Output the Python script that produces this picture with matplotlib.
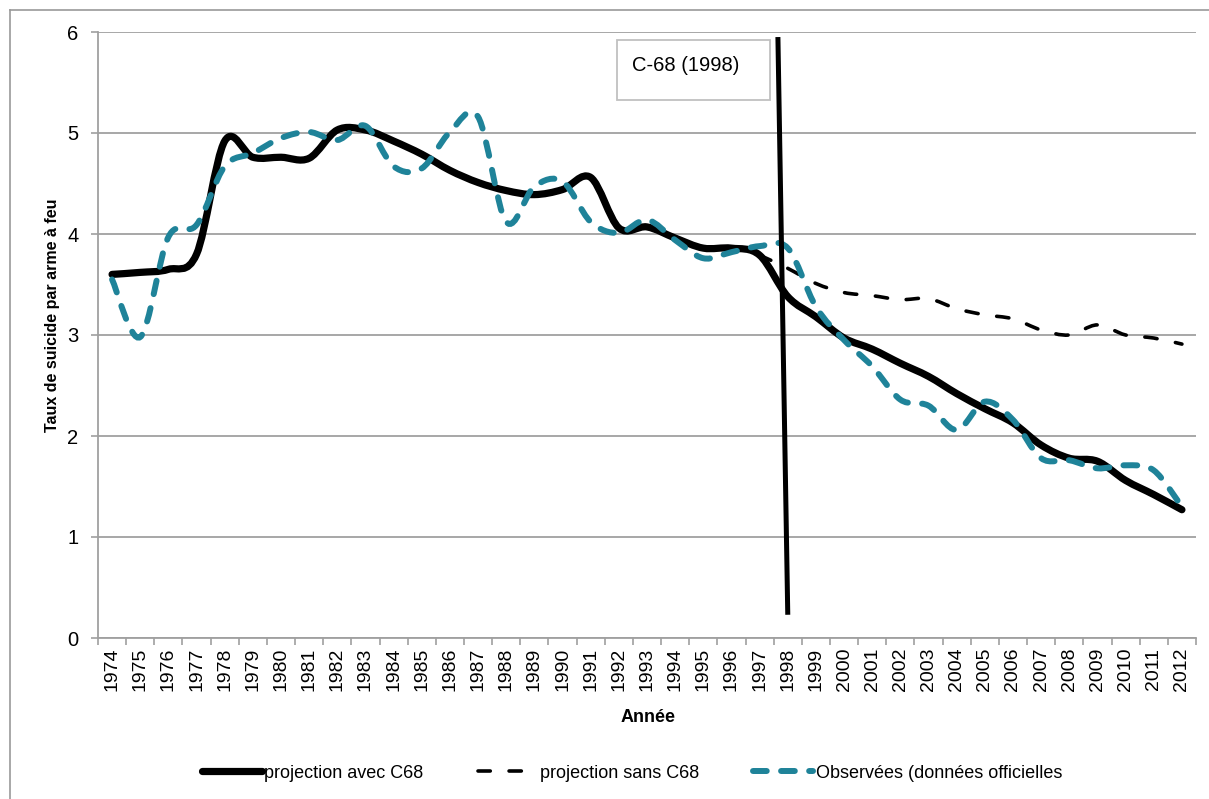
import matplotlib
matplotlib.use("Agg")
import matplotlib.pyplot as plt
import numpy as np
from matplotlib.path import Path
from matplotlib.patches import PathPatch, Rectangle
from matplotlib.lines import Line2D

plt.rcParams["font.family"] = ["Liberation Sans", "DejaVu Sans"]

YEARS = list(range(1974, 2013))

# projection avec C68 (thick black)
AVEC = [3.60, 3.62, 3.65, 3.80, 4.92, 4.76, 4.76, 4.75, 5.03, 5.03,
        4.92, 4.79, 4.63, 4.51, 4.43, 4.39, 4.44, 4.56, 4.06, 4.07,
        3.96, 3.86, 3.86, 3.79, 3.38, 3.18, 2.97, 2.86, 2.72, 2.59,
        2.42, 2.27, 2.13, 1.91, 1.78, 1.75, 1.56, 1.42, 1.27]

# projection sans C68 (thin dashed black), starts in 1997
SANS_FROM = 1997
SANS = [3.79, 3.66, 3.51, 3.42, 3.39, 3.35, 3.36, 3.26, 3.20, 3.16,
        3.05, 3.00, 3.10, 3.00, 2.97, 2.91]

# Observées (teal dashed)
OBS = [3.55, 2.98, 3.97, 4.09, 4.67, 4.80, 4.95, 5.01, 4.93, 5.07,
       4.67, 4.65, 5.01, 5.16, 4.12, 4.47, 4.52, 4.12, 4.01, 4.14,
       3.94, 3.76, 3.82, 3.88, 3.86, 3.28, 2.95, 2.69, 2.36, 2.30,
       2.06, 2.34, 2.16, 1.78, 1.76, 1.68, 1.71, 1.66, 1.30]

LABELS = ["projection avec C68", "projection sans C68",
          "Observées (données officielles"]

# hand-drawn marker line for C-68 (category index, value)
C68_X = [23.65, 24.0]
C68_Y = [5.95, 0.23]

TEAL = "#1f8399"
GRID = "#a0a0a0"


def smooth_path(xs, ys):
    # Excel-style smoothed line: cubic Bezier through every point
    pts = np.column_stack([xs, ys]).astype(float)
    n = len(pts)
    verts = [pts[0]]
    codes = [Path.MOVETO]
    for i in range(n - 1):
        p0 = pts[max(i - 1, 0)]
        p1 = pts[i]
        p2 = pts[i + 1]
        p3 = pts[min(i + 2, n - 1)]
        verts += [p1 + (p2 - p0) / 6, p2 - (p3 - p1) / 6, p2]
        codes += [Path.CURVE4] * 3
    return Path(verts, codes)


fig = plt.figure(figsize=(12.09, 7.99), dpi=100)
ax = fig.add_axes([98 / 1209, 1 - 638 / 799, 1098 / 1209, 606 / 799])

idx = np.arange(len(YEARS))
sans_idx = np.arange(len(SANS)) + YEARS.index(SANS_FROM)

ax.add_patch(PathPatch(smooth_path(idx, AVEC), fill=False, edgecolor="black",
                       linewidth=5.2, capstyle="round", joinstyle="round", zorder=3))
ax.add_patch(PathPatch(smooth_path(sans_idx, SANS), fill=False, edgecolor="black",
                       linewidth=2.6, linestyle=(0, (3.4, 5.2)), capstyle="round",
                       zorder=3))
ax.add_patch(PathPatch(smooth_path(idx, OBS), fill=False, edgecolor=TEAL,
                       linewidth=4.3, linestyle=(0, (2.3, 2.4)), capstyle="round",
                       zorder=4))

ax.plot(C68_X, C68_Y, color="black", linewidth=3.6, solid_capstyle="butt", zorder=6)

# label box
ax.add_patch(Rectangle((0.4727, 0.888), 0.1395, 0.099, transform=ax.transAxes,
                       facecolor="white", edgecolor="#c0c0c0", linewidth=1.3, zorder=5))
ax.text(0.4863, 0.944, "C-68 (1998)", transform=ax.transAxes, fontsize=14.5,
        ha="left", va="center", zorder=6)

ax.set_xlim(-0.5, len(YEARS) - 0.5)
ax.set_ylim(0, 6)
ax.set_xticks(np.arange(-0.5, len(YEARS), 1.0))
ax.set_xticklabels([])
ax.set_xticks(idx, minor=True)
ax.set_xticklabels([str(y) for y in YEARS], minor=True, rotation=90, fontsize=14)
ax.set_yticks(range(7))
ax.set_yticklabels([str(v) for v in range(7)], fontsize=14.5)
ax.tick_params(axis="x", which="major", length=5, width=1.2, color=GRID)
ax.tick_params(axis="x", which="minor", length=0, pad=7)
ax.tick_params(axis="y", length=5, width=1.2, color=GRID, pad=9)
ax.yaxis.grid(True, color=GRID, linewidth=1.3)
ax.set_axisbelow(True)
for side in ("top", "right"):
    ax.spines[side].set_visible(False)
for side in ("left", "bottom"):
    ax.spines[side].set_color(GRID)
    ax.spines[side].set_linewidth(1.3)

fig.text(52 / 1209, 1 - 315 / 799, "Taux de suicide par arme à feu", rotation=90,
         fontsize=11.5, fontweight="bold", ha="center", va="center")
fig.text(648 / 1209, 1 - 717 / 799, "Année", fontsize=13, fontweight="bold",
         ha="center", va="center")

handles = [
    Line2D([], [], color="black", linewidth=5.2, solid_capstyle="round"),
    Line2D([], [], color="black", linewidth=2.6, linestyle=(0, (3.4, 5.2)),
           dash_capstyle="round"),
    Line2D([], [], color=TEAL, linewidth=4.3, linestyle=(0, (2.3, 2.4)),
           dash_capstyle="round"),
]
fig.legend(handles, LABELS, loc="center", bbox_to_anchor=(632 / 1209, 1 - 773 / 799),
           ncol=3, frameon=False, fontsize=13, handlelength=3.3, handletextpad=0.15,
           columnspacing=3.0)

# outer frame (left and top edges only)
fig.add_artist(Line2D([10 / 1209, 10 / 1209], [0, 1 - 10 / 799],
                      transform=fig.transFigure, color="#999999", linewidth=1.2))
fig.add_artist(Line2D([10 / 1209, 1], [1 - 10 / 799, 1 - 10 / 799],
                      transform=fig.transFigure, color="#999999", linewidth=1.2))

fig.savefig("out.png", dpi=100)
